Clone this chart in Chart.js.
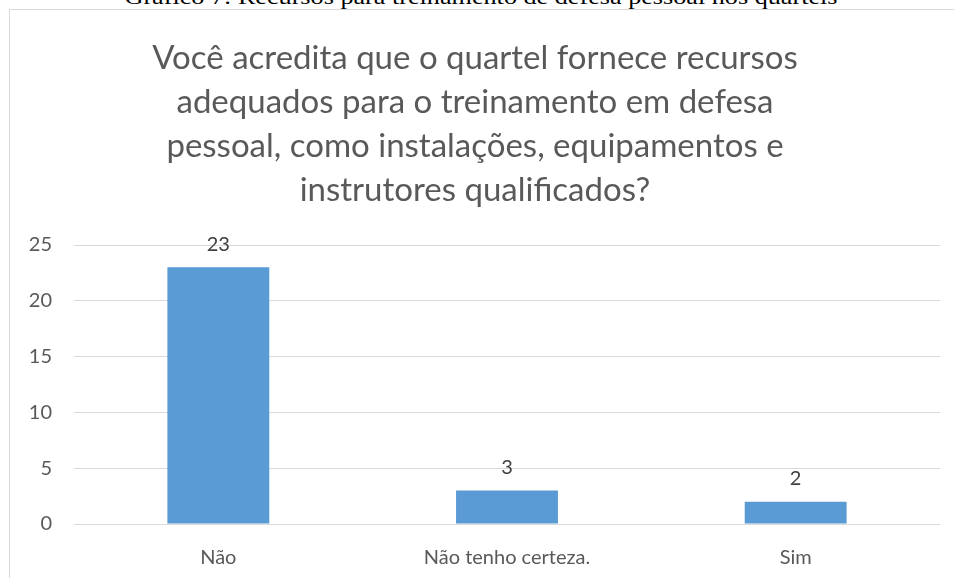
<!DOCTYPE html>
<html>
<head>
<meta charset="utf-8">
<script src="https://cdn.jsdelivr.net/npm/chart.js@4.4.1/dist/chart.umd.min.js"></script>
<style>
  html, body { margin: 0; padding: 0; background: #fff; overflow: hidden; }
  body { width: 954px; height: 578px; position: relative; }
  #frame { position: absolute; left: 9px; top: 9px; width: 960px; height: 600px; border: 1px solid #d9d9d9; box-sizing: border-box; }
  #cap { position: absolute; left: 0; top: 0; }
  #wrap { position: absolute; left: 0; top: 0; width: 954px; height: 578px; }
</style>
</head>
<body>
<svg id="cap" width="954" height="12">
  <text x="481" y="4" text-anchor="middle" textLength="713" lengthAdjust="spacingAndGlyphs" font-family="Liberation Serif" font-size="21" fill="#000">Gráfico 7: Recursos para treinamento de defesa pessoal nos quartéis</text>
</svg>
<div id="frame"></div>
<div id="wrap"><canvas id="c" width="954" height="578"></canvas></div>
<script>
const categories = ["Não", "Não tenho certeza.", "Sim"];
const values = [23, 3, 2];
const titleLines = [
  "Você acredita que o quartel fornece recursos",
  "adequados para o treinamento em defesa",
  "pessoal, como instalações, equipamentos e",
  "instrutores qualificados?"
];
const yTicks = [0, 5, 10, 15, 20, 25];

const FONT = "Lato, 'Liberation Sans', sans-serif";

const valueLabels = {
  id: 'valueLabels',
  afterDatasetsDraw(chart) {
    const ctx = chart.ctx;
    const meta = chart.getDatasetMeta(0);
    ctx.save();
    ctx.font = "20px " + FONT;
    ctx.fillStyle = "#404040";
    ctx.textAlign = "center";
    ctx.textBaseline = "middle";
    meta.data.forEach((bar, i) => {
      ctx.fillText(String(values[i]), bar.x, bar.y - 23);
    });
    ctx.restore();
  }
};

new Chart(document.getElementById('c'), {
  type: 'bar',
  data: {
    labels: categories,
    datasets: [{
      data: values,
      backgroundColor: '#5B9BD5',
      borderWidth: 0,
      barPercentage: 0.353,
      categoryPercentage: 1
    }]
  },
  options: {
    responsive: false,
    animation: false,
    layout: { padding: { left: 10, right: 14, top: 0, bottom: 0 } },
    plugins: {
      legend: { display: false },
      tooltip: { enabled: false },
      title: {
        display: true,
        text: titleLines,
        color: '#595959',
        font: { family: FONT, size: 33, weight: 'normal', lineHeight: 44 / 33 },
        padding: { top: 36, bottom: 33 }
      }
    },
    scales: {
      x: {
        grid: { display: false },
        border: { display: false },
        ticks: { color: '#595959', font: { family: FONT, size: 20 }, padding: 14 },
        afterFit(scale) { scale.height = 54; }
      },
      y: {
        min: 0, max: 25,
        afterBuildTicks(scale) { scale.ticks = yTicks.map(v => ({ value: v })); },
        grid: { color: '#d9d9d9', lineWidth: 1, drawTicks: false },
        border: { display: false },
        ticks: { color: '#595959', font: { family: FONT, size: 20 }, padding: 22 },
        afterFit(scale) { scale.width = 64; }
      }
    }
  },
  plugins: [valueLabels]
});
</script>
</body>
</html>
